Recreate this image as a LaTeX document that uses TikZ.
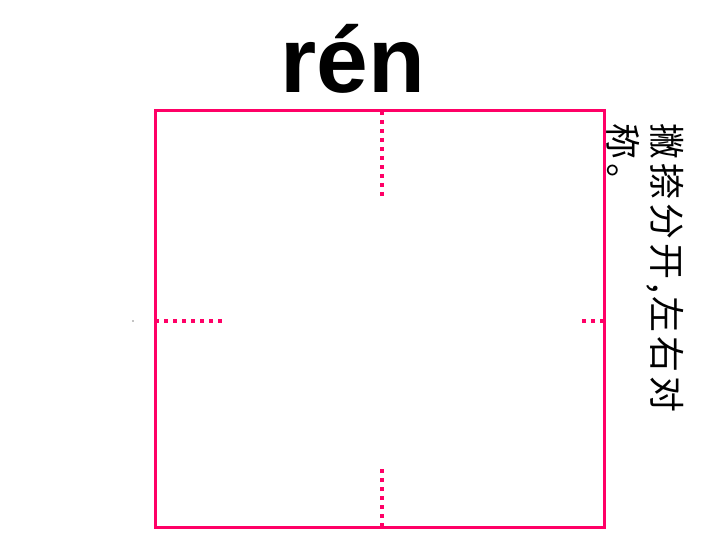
\documentclass[tikz,border=0pt]{standalone}
\usepackage{fontspec}
\setmainfont{Liberation Sans}
\newfontfamily\cjk[LetterSpace=11]{Noto Sans CJK SC}
\definecolor{rosepink}{RGB}{255,0,102}
\begin{document}
\begin{tikzpicture}[x=1pt,y=-1pt,
  frame/.style={draw=rosepink,line width=3pt},
  guide/.style={draw=rosepink,line width=3.5pt,dash pattern=on 4pt off 5pt}]
\useasboundingbox (0,0) rectangle (720,540);
\node[inner sep=0,anchor=base,font=\fontsize{93}{93}\selectfont\bfseries] (title) at (353,93) {rén};
\coordinate (tl) at (155,111);
\coordinate (br) at (604,527);
\draw[frame] (tl) rectangle (br);
\coordinate (t1) at (382,111); \coordinate (t2) at (382,197);
\coordinate (b1) at (382,527); \coordinate (b2) at (382,466);
\coordinate (l1) at (155,321); \coordinate (l2) at (226,321);
\coordinate (r1) at (604,321); \coordinate (r2) at (578,321);
\draw[guide] (t1) -- (t2);
\draw[guide] (b1) -- (b2);
\draw[guide] (l1) -- (l2);
\draw[guide] (r1) -- (r2);
\fill[black] (133,321) circle (0.6);
\node[inner sep=0,rotate=-90,anchor=north west,align=left,font=\cjk\fontsize{36}{44}\selectfont] (note) at (684,123) {撇捺分开,左右对\\称。};
\end{tikzpicture}
\end{document}
